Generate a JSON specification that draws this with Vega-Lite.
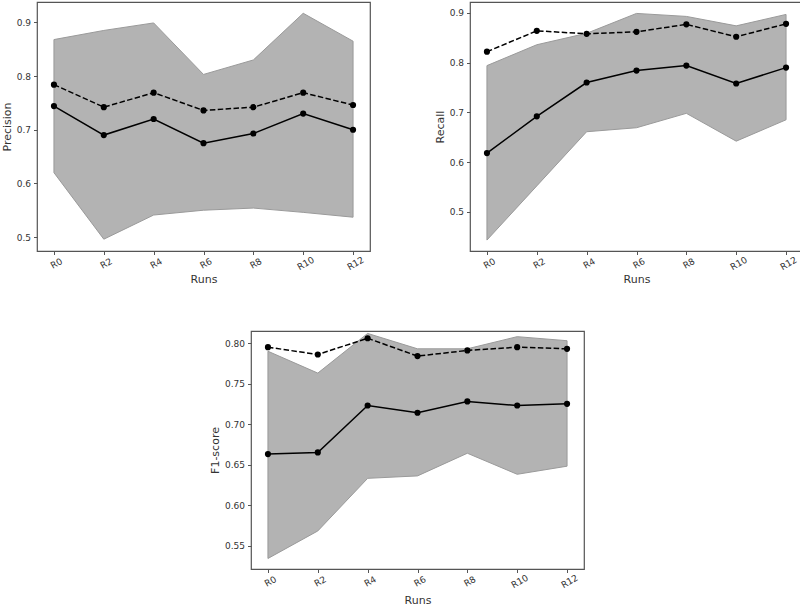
{
  "$schema": "https://vega.github.io/schema/vega-lite/v6.json",
  "autosize": {"type": "pad"},
  "padding": {"left": 0, "top": 1, "right": 0, "bottom": 0},
  "background": "white",
  "config": {
    "view": {"stroke": "#555", "strokeWidth": 1.2},
    "axis": {
      "labelFont": "DejaVu Sans", "titleFont": "DejaVu Sans",
      "labelFontSize": 9, "titleFontSize": 11, "titleFontWeight": "normal",
      "labelColor": "#333", "titleColor": "#333",
      "grid": false, "domain": false, "tickColor": "#555", "tickSize": 3.5, "labelPadding": 3
    },
    "axisX": {"labelPadding": 5}
  },
  "datasets": {
    "prec": [
      {"run": "R0", "avg": 0.744, "top": 0.784, "low": 0.620, "high": 0.868},
      {"run": "R2", "avg": 0.690, "top": 0.742, "low": 0.496, "high": 0.885},
      {"run": "R4", "avg": 0.720, "top": 0.769, "low": 0.541, "high": 0.899},
      {"run": "R6", "avg": 0.675, "top": 0.736, "low": 0.550, "high": 0.803},
      {"run": "R8", "avg": 0.693, "top": 0.742, "low": 0.554, "high": 0.830},
      {"run": "R10", "avg": 0.730, "top": 0.769, "low": 0.546, "high": 0.917},
      {"run": "R12", "avg": 0.700, "top": 0.746, "low": 0.537, "high": 0.865}
    ],
    "rec": [
      {"run": "R0", "avg": 0.618, "top": 0.822, "low": 0.443, "high": 0.794},
      {"run": "R2", "avg": 0.692, "top": 0.864, "low": 0.552, "high": 0.836},
      {"run": "R4", "avg": 0.760, "top": 0.858, "low": 0.661, "high": 0.859},
      {"run": "R6", "avg": 0.784, "top": 0.862, "low": 0.669, "high": 0.899},
      {"run": "R8", "avg": 0.794, "top": 0.877, "low": 0.698, "high": 0.893},
      {"run": "R10", "avg": 0.758, "top": 0.852, "low": 0.642, "high": 0.874},
      {"run": "R12", "avg": 0.790, "top": 0.878, "low": 0.685, "high": 0.897}
    ],
    "f1": [
      {"run": "R0", "avg": 0.663, "top": 0.795, "low": 0.534, "high": 0.790},
      {"run": "R2", "avg": 0.665, "top": 0.786, "low": 0.568, "high": 0.763},
      {"run": "R4", "avg": 0.723, "top": 0.806, "low": 0.633, "high": 0.812},
      {"run": "R6", "avg": 0.714, "top": 0.784, "low": 0.636, "high": 0.793},
      {"run": "R8", "avg": 0.728, "top": 0.791, "low": 0.664, "high": 0.793},
      {"run": "R10", "avg": 0.723, "top": 0.795, "low": 0.638, "high": 0.808},
      {"run": "R12", "avg": 0.725, "top": 0.793, "low": 0.648, "high": 0.803}
    ],
    "blank": [{"run": "R0"}]
  },
  "vconcat": [
    {
      "hconcat": [
        {
          "width": 333, "height": 249,
          "data": {"name": "prec"},
          "encoding": {
            "x": {"field": "run", "type": "ordinal", "sort": ["R0","R2","R4","R6","R8","R10","R12"],
                  "scale": {"type": "point", "padding": 0.34},
                  "axis": {"title": "Runs", "labelAngle": -30, "labelAlign": "center", "labelBaseline": "top", "titlePadding": 2}}
          },
          "layer": [
            {"mark": {"type": "area", "color": "#b3b3b3", "stroke": "#9a9a9a", "strokeWidth": 1},
             "encoding": {"y": {"field": "low", "type": "quantitative",
                                "scale": {"domain": [0.474, 0.938], "nice": false, "zero": false},
                                "axis": {"title": "Precision", "values": [0.5,0.6,0.7,0.8,0.9], "format": ".1f", "titlePadding": 4}},
                          "y2": {"field": "high"}}},
            {"mark": {"type": "line", "color": "black", "strokeWidth": 1.5, "point": {"filled": true, "size": 38, "color": "black"}},
             "encoding": {"y": {"field": "avg", "type": "quantitative"}}},
            {"mark": {"type": "line", "color": "black", "strokeWidth": 1.5, "strokeDash": [5.5, 2.4], "point": {"filled": true, "size": 38, "color": "black"}},
             "encoding": {"y": {"field": "top", "type": "quantitative"}}}
          ]
        },
        {
          "width": 333, "height": 249,
          "data": {"name": "rec"},
          "encoding": {
            "x": {"field": "run", "type": "ordinal", "sort": ["R0","R2","R4","R6","R8","R10","R12"],
                  "scale": {"type": "point", "padding": 0.34},
                  "axis": {"title": "Runs", "labelAngle": -30, "labelAlign": "center", "labelBaseline": "top", "titlePadding": 2}}
          },
          "layer": [
            {"mark": {"type": "area", "color": "#b3b3b3", "stroke": "#9a9a9a", "strokeWidth": 1},
             "encoding": {"y": {"field": "low", "type": "quantitative",
                                "scale": {"domain": [0.421, 0.922], "nice": false, "zero": false},
                                "axis": {"title": "Recall", "values": [0.5,0.6,0.7,0.8,0.9], "format": ".1f", "titlePadding": 4}},
                          "y2": {"field": "high"}}},
            {"mark": {"type": "line", "color": "black", "strokeWidth": 1.5, "point": {"filled": true, "size": 38, "color": "black"}},
             "encoding": {"y": {"field": "avg", "type": "quantitative"}}},
            {"mark": {"type": "line", "color": "black", "strokeWidth": 1.5, "strokeDash": [5.5, 2.4], "point": {"filled": true, "size": 38, "color": "black"}},
             "encoding": {"y": {"field": "top", "type": "quantitative"}}}
          ]
        }
      ],
      "spacing": 62
    },
    {
      "hconcat": [
        {
          "width": 171, "height": 1,
          "view": {"stroke": null},
          "data": {"name": "blank"},
          "mark": {"type": "rule", "opacity": 0},
          "encoding": {}
        },
        {
          "width": 333, "height": 238,
          "data": {"name": "f1"},
          "encoding": {
            "x": {"field": "run", "type": "ordinal", "sort": ["R0","R2","R4","R6","R8","R10","R12"],
                  "scale": {"type": "point", "padding": 0.34},
                  "axis": {"title": "Runs", "labelAngle": -30, "labelAlign": "center", "labelBaseline": "top", "titlePadding": 5}}
          },
          "layer": [
            {"mark": {"type": "area", "color": "#b3b3b3", "stroke": "#9a9a9a", "strokeWidth": 1},
             "encoding": {"y": {"field": "low", "type": "quantitative",
                                "scale": {"domain": [0.521, 0.815], "nice": false, "zero": false},
                                "axis": {"title": "F1-score", "values": [0.55,0.6,0.65,0.7,0.75,0.8], "format": ".2f", "titlePadding": 4}},
                          "y2": {"field": "high"}}},
            {"mark": {"type": "line", "color": "black", "strokeWidth": 1.5, "point": {"filled": true, "size": 38, "color": "black"}},
             "encoding": {"y": {"field": "avg", "type": "quantitative"}}},
            {"mark": {"type": "line", "color": "black", "strokeWidth": 1.5, "strokeDash": [5.5, 2.4], "point": {"filled": true, "size": 38, "color": "black"}},
             "encoding": {"y": {"field": "top", "type": "quantitative"}}}
          ]
        }
      ],
      "spacing": 0
    }
  ],
  "spacing": 44
}
